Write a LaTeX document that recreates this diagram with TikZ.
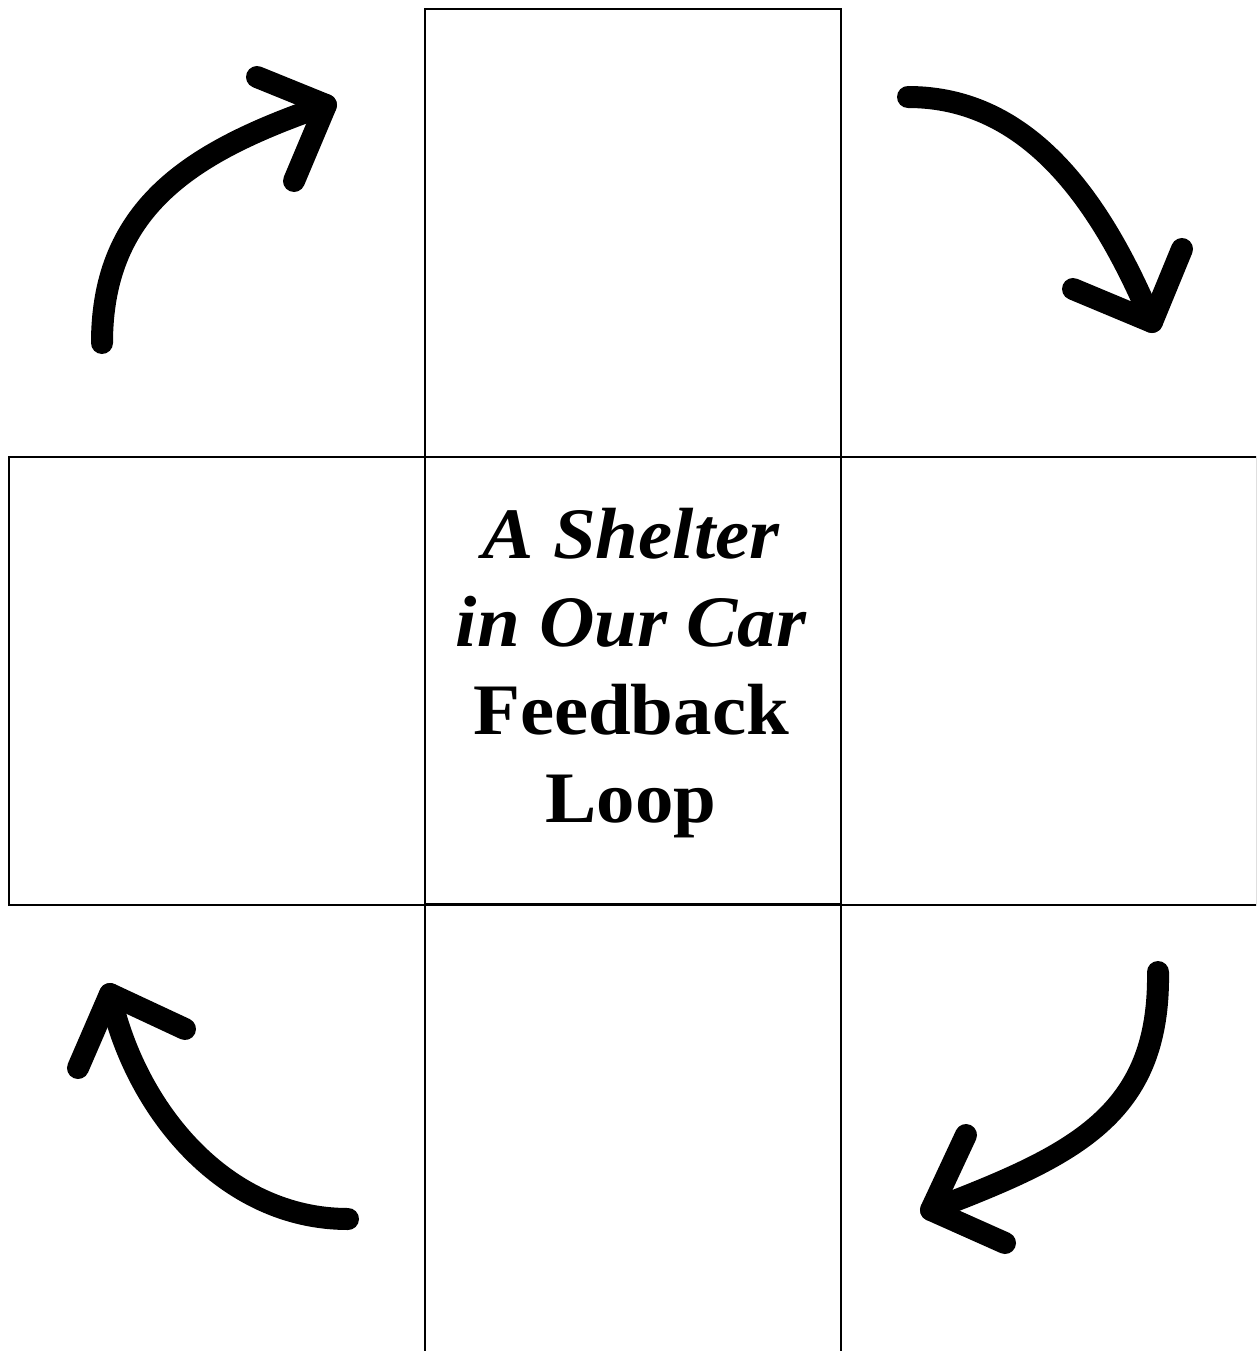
\documentclass[tikz,border=0pt]{standalone}
\usepackage{fontspec}
\newfontfamily\titlefont{Liberation Serif}[FakeStretch=1.06]
\begin{document}
\begin{tikzpicture}[x=1pt,y=-1pt,
  cell/.style={draw=black, line width=2pt, minimum width=416pt, minimum height=448pt, inner sep=0pt, anchor=north west},
  titletext/.style={align=center, inner sep=0pt, font={\titlefont\bfseries\fontsize{72.5}{88}\selectfont}},
  bigarrow/.style={line width=22pt, line cap=round, line join=round, black}]
\useasboundingbox (0,0) rectangle (1256,1351);
\clip (0,0) rectangle (1256,1351);
\fill[white] (0,0) rectangle (1256,1351);
% boxes
\node[cell] (top) at (424,8) {};
\node[cell] (left) at (8,455.5) {};
\node[cell] (right) at (840,455.5) {};
\node[cell] (bottom) at (424,903) {};
\node[cell] (center) at (424,455.5) {};
\node[titletext] (title) at (631,673)
  {\itshape A Shelter\\ \itshape in Our Car\\ Feedback\\ Loop};
% arrow 1 (top-left)
\coordinate (a1s) at (102,343);
\coordinate (a1t) at (326,105);
\coordinate (a1b) at (257,77);
\coordinate (a1c) at (294,181);
\draw[bigarrow] (a1s) .. controls (102,205) and (195,150) .. (a1t);
\draw[bigarrow] (a1b) -- (a1t) -- (a1c);
% arrow 2 (top-right)
\coordinate (a2s) at (908,97);
\coordinate (a2t) at (1152,322);
\coordinate (a2b) at (1073,289);
\coordinate (a2c) at (1182,249);
\draw[bigarrow] (a2s) .. controls (1030,97) and (1102,203) .. (a2t);
\draw[bigarrow] (a2b) -- (a2t) -- (a2c);
% arrow 3 (bottom-right)
\coordinate (a3s) at (1158,972);
\coordinate (a3t) at (931,1210);
\coordinate (a3b) at (966,1135);
\coordinate (a3c) at (1005,1243);
\draw[bigarrow] (a3s) .. controls (1160,1115) and (1075,1155) .. (a3t);
\draw[bigarrow] (a3b) -- (a3t) -- (a3c);
% arrow 4 (bottom-left)
\coordinate (a4s) at (348,1219);
\coordinate (a4t) at (110,994);
\coordinate (a4b) at (185,1029);
\coordinate (a4c) at (78,1068);
\draw[bigarrow] (a4s) .. controls (225,1219) and (135,1110) .. (a4t);
\draw[bigarrow] (a4b) -- (a4t) -- (a4c);
\end{tikzpicture}
\end{document}
